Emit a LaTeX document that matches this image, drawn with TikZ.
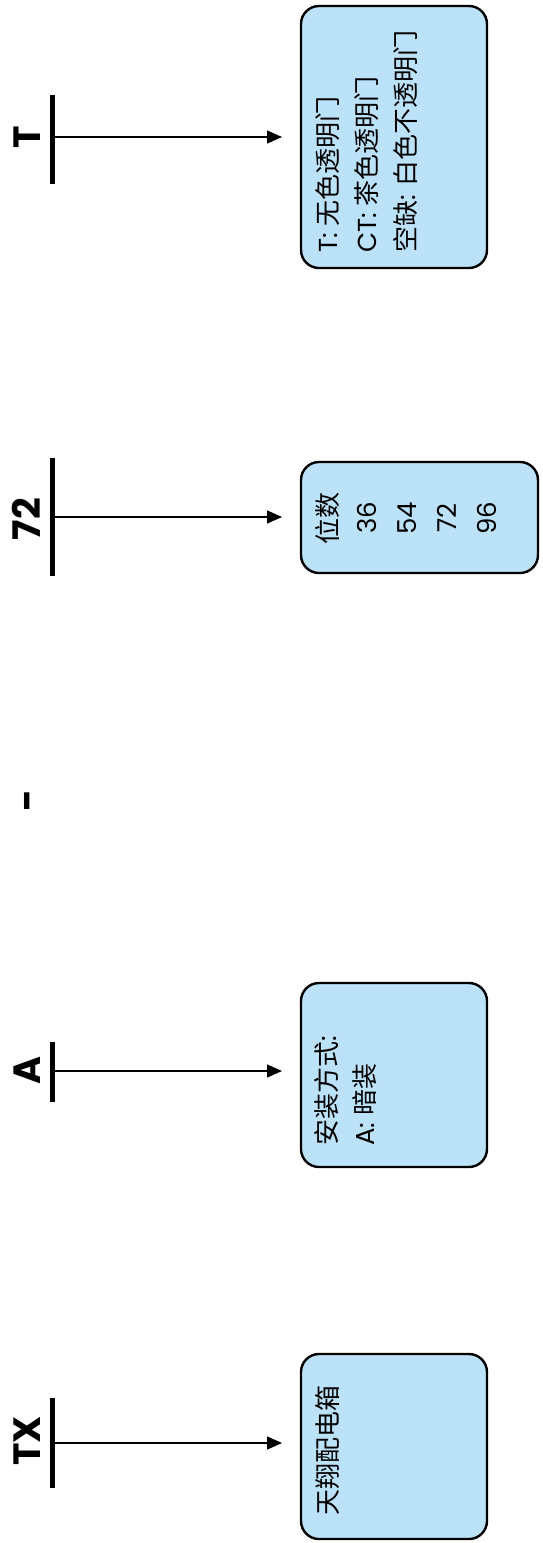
\documentclass[tikz,border=0pt]{standalone}
\usepackage{fontspec}
\setmainfont{Poppins}[UprightFont=*-Regular, BoldFont=*-Bold]
\newfontfamily\cjk{Noto Sans CJK SC}
\usetikzlibrary{arrows.meta}
\newcommand{\zh}[1]{{\cjk #1}}
\definecolor{boxblue}{RGB}{187,226,248}
\begin{document}
\begin{tikzpicture}[x=1pt,y=-1pt,
  box/.style={draw=black, line width=2.4pt, fill=boxblue, rounded corners=18pt, inner sep=0pt},
  txt/.style={rotate=90, anchor=base west, inner sep=0pt, font=\fontsize{26}{30}\selectfont},
  ctxt/.style={rotate=90, anchor=base, inner sep=0pt, font=\fontsize{26}{30}\selectfont},
  lbl/.style={rotate=90, anchor=base, inner sep=0pt, font=\fontsize{38}{40}\selectfont\bfseries},
  bar/.style={fill=black, inner sep=0pt, minimum width=5pt},
  arr/.style={line width=1.5pt, -{Triangle[length=15pt,width=13pt]}}]
\useasboundingbox (0,0) rectangle (542,1543);

% ---- T ----
\node[box, minimum width=186pt, minimum height=262pt] (Tbox) at (394,137) {};
\node[bar, minimum height=89pt] (Tbar) at (52,139.5) {};
\node[lbl] (Tl) at (40,137) {T};
\coordinate (Ts) at (52,137);
\coordinate (Te) at (282,137);
\draw[arr] (Ts) -- (Te);
\node[txt] (t1) at (337,253) {T: \zh{无色透明门}};
\node[txt] (t2) at (376,253) {CT: \zh{茶色透明门}};
\node[txt] (t3) at (415,253) {\zh{空缺}: \zh{白色不透明门}};

% ---- 72 ----
\node[box, minimum width=237pt, minimum height=111pt] (Nbox) at (419.5,517.5) {};
\node[bar, minimum height=118pt] (Nbar) at (52,517) {};
\node[lbl] (Nl) at (40,519) {72};
\coordinate (Ns) at (52,517);
\coordinate (Ne) at (282,517);
\draw[arr] (Ns) -- (Ne);
\node[ctxt] (n1) at (337,518) {\zh{位数}};
\node[ctxt] (n2) at (376,518) {36};
\node[ctxt] (n3) at (416,518) {54};
\node[ctxt] (n4) at (456,518) {72};
\node[ctxt] (n5) at (496,518) {96};

% ---- dash ----
\node[lbl] (dash) at (40,800) {-};

% ---- A ----
\node[box, minimum width=186pt, minimum height=184pt] (Abox) at (394,1075) {};
\node[bar, minimum height=60pt] (Abar) at (52,1072) {};
\node[lbl] (Al) at (40,1070) {A};
\coordinate (As) at (52,1071);
\coordinate (Ae) at (282,1071);
\draw[arr] (As) -- (Ae);
\node[txt] (a1) at (336,1146) {\zh{安装方式}:};
\node[txt] (a2) at (374,1146) {A: \zh{暗装}};

% ---- TX ----
\node[box, minimum width=186pt, minimum height=185pt] (Xbox) at (394,1446.5) {};
\node[bar, minimum height=90pt] (Xbar) at (52,1443) {};
\node[lbl] (Xl) at (40,1441) {TX};
\coordinate (Xs) at (52,1443);
\coordinate (Xe) at (282,1443);
\draw[arr] (Xs) -- (Xe);
\node[txt] (x1) at (337,1516) {\zh{天翔配电箱}};
\end{tikzpicture}
\end{document}
